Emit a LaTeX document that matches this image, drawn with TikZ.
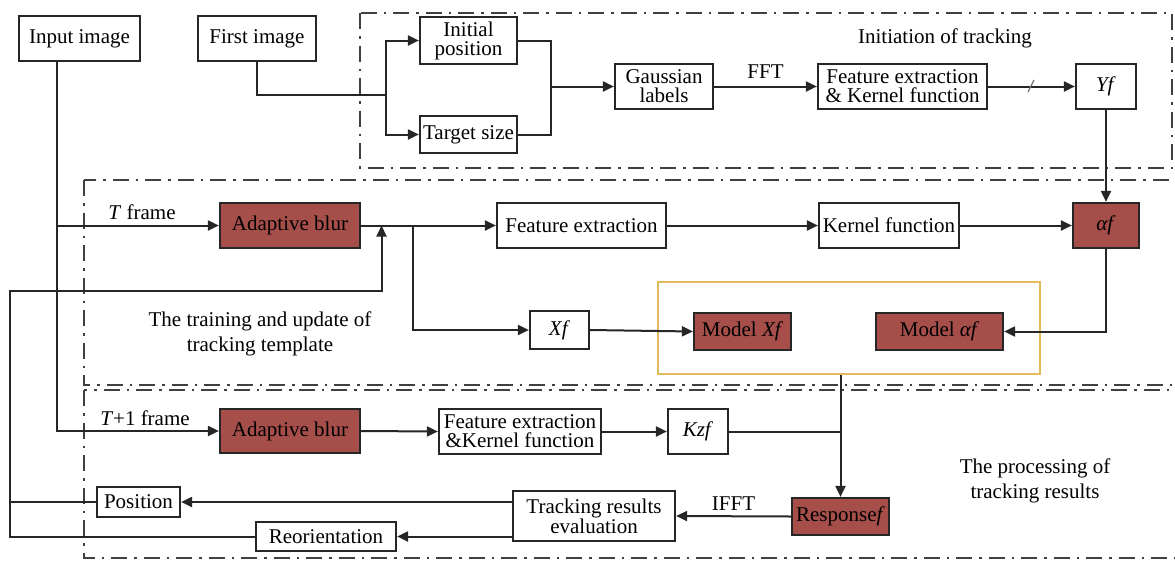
\documentclass[tikz,border=0pt]{standalone}
\usepackage{fontspec}
\setmainfont{Liberation Serif}
\usetikzlibrary{arrows.meta,calc}
\definecolor{brn}{HTML}{A54E4A}
\definecolor{gold}{HTML}{E3BC5A}
\begin{document}
\begin{tikzpicture}[x=1pt,y=-1pt,
  box/.style={draw=black!85, line width=2.2pt, fill=white, inner sep=0pt, align=center, font=\fontsize{21}{19}\selectfont},
  rbox/.style={box, fill=brn},
  arr/.style={line width=2pt, draw=black!85, -{Triangle[length=11pt,width=10pt]}},
  ln/.style={line width=2pt, draw=black!85},
  dd/.style={line width=2.4pt, draw=black!75, dash pattern=on 16pt off 7pt on 2.5pt off 7pt},
  lbl/.style={font=\fontsize{21}{25}\selectfont, align=center, inner sep=0pt}
]
\useasboundingbox (0,0) rectangle (1175,563);

% region frames
\draw[dd] (360,13) rectangle (1172,168);
\draw[dd] (84,180) rectangle (1185,385);
\draw[dd] (84,390) rectangle (1185,558);
\node[draw=gold, line width=2pt, minimum width=382pt, minimum height=92pt, inner sep=0pt] (ybox) at (849,328) {};

% nodes
\node[box, minimum width=121pt, minimum height=45pt] (inp) at (79.5,38.5) {Input image};
\node[box, minimum width=118pt, minimum height=45pt] (first) at (257,38.5) {First image};
\node[box, minimum width=97pt, minimum height=47pt] (initpos) at (468.5,40.5) {Initial\\position};
\node[box, minimum width=97pt, minimum height=37pt] (tsize) at (468.5,134.5) {Target size};
\node[box, minimum width=98pt, minimum height=45pt] (gauss) at (664,86.5) {Gaussian\\labels};
\node[box, minimum width=169pt, minimum height=45pt] (feat1) at (902.5,86.5) {Feature extraction\\\& Kernel function};
\node[box, minimum width=60pt, minimum height=45pt] (yf) at (1106,86.5) {\textit{Yf}};
\node[lbl] (init) at (945,38) {Initiation of tracking};

\node[rbox, minimum width=140pt, minimum height=45pt] (blur1) at (290,225.5) {Adaptive blur};
\node[box, minimum width=169pt, minimum height=45pt] (feat2) at (581.5,225.5) {Feature extraction};
\node[box, minimum width=140pt, minimum height=45pt] (kern) at (889,225.5) {Kernel function};
\node[rbox, minimum width=66pt, minimum height=45pt] (af) at (1106,225.5) {\textit{αf}};
\node[box, minimum width=59pt, minimum height=38pt] (xf) at (559.5,330) {\textit{Xf}};
\node[rbox, minimum width=97pt, minimum height=37pt] (mxf) at (742.5,331.5) {Model \textit{Xf}};
\node[rbox, minimum width=127pt, minimum height=37pt] (maf) at (939.5,331.5) {Model \textit{αf}};
\node[lbl] (train) at (260,334) {The training and update of\\tracking template};
\node[lbl] (tfr) at (142,212) {\textit{T} frame};

\node[rbox, minimum width=140pt, minimum height=44pt] (blur2) at (290,431) {Adaptive blur};
\node[box, minimum width=162pt, minimum height=45pt] (feat3) at (520,431.5) {Feature extraction\\\&Kernel function};
\node[box, minimum width=60pt, minimum height=45pt] (kzf) at (698,431.5) {\textit{Kzf}};
\node[rbox, minimum width=97pt, minimum height=37pt] (resp) at (840.5,516.5) {Response\textit{f}};
\node[box, minimum width=162pt, minimum height=50pt] (treval) at (594,516) {Tracking results\\evaluation};
\node[box, minimum width=83pt, minimum height=30pt] (pos) at (138.5,502) {Position};
\node[box, minimum width=140pt, minimum height=29pt] (reor) at (326,536.5) {Reorientation};
\node[lbl] (proc) at (1035,481) {The processing of\\tracking results};
\node[lbl] (t1fr) at (145,418) {\textit{T}+1 frame};

% helper coordinates
\coordinate (jn) at (386,95);
\coordinate (j2) at (551,86.5);
\coordinate (ix) at (57,0);
\coordinate (bx) at (413,0);
\coordinate (lx) at (10,0);
\coordinate (fb) at (381.5,291);

% connectors: initiation
\draw[ln] (first.south) |- (jn);
\draw[arr] (jn) |- (initpos.west);
\draw[arr] (jn) |- (tsize.west);
\draw[ln] (initpos.east) -| (j2) |- (tsize.east);
\draw[arr] (j2) -- (gauss.west);
\draw[arr] (gauss.east) -- node[lbl, above=7pt] (fft) {FFT} (feat1.west);
\draw[arr] (feat1.east) -- (yf.west);
\draw[line width=1.2pt, black!55] (1028,92) -- (1034,80);
\draw[arr] (yf.south) -- (af.north);

% connectors: training
\draw[arr] (inp.south -| ix) |- (blur2.west);
\draw[arr] (ix |- blur1.west) -- (blur1.west);
\draw[arr] (blur1.east) -- (feat2.west);
\draw[arr] (blur1.east -| bx) |- (xf.west);
\draw[arr] (feat2.east) -- (kern.west);
\draw[arr] (kern.east) -- (af.west);
\draw[arr] (af.south) |- (maf.east);
\draw[arr] (xf.east) -- (mxf.west);
\draw[arr] (reor.west) -| (lx |- fb) -- (fb) -- (fb |- blur1.east);
\draw[ln] (pos.west) -- (lx |- pos.west);

% connectors: processing
\draw[arr] (blur2.east) -- (feat3.west);
\draw[arr] (feat3.east) -- (kzf.west);
\draw[ln] (kzf.east) -- (resp.north |- kzf.east);
\draw[arr] (ybox.south -| resp.north) -- (resp.north);
\draw[arr] (resp.west) -- node[lbl, above=5pt] (ifft) {IFFT} (treval.east);
\draw[arr] (treval.west |- pos.east) -- (pos.east);
\draw[arr] (treval.west |- reor.east) -- (reor.east);
\end{tikzpicture}
\end{document}
